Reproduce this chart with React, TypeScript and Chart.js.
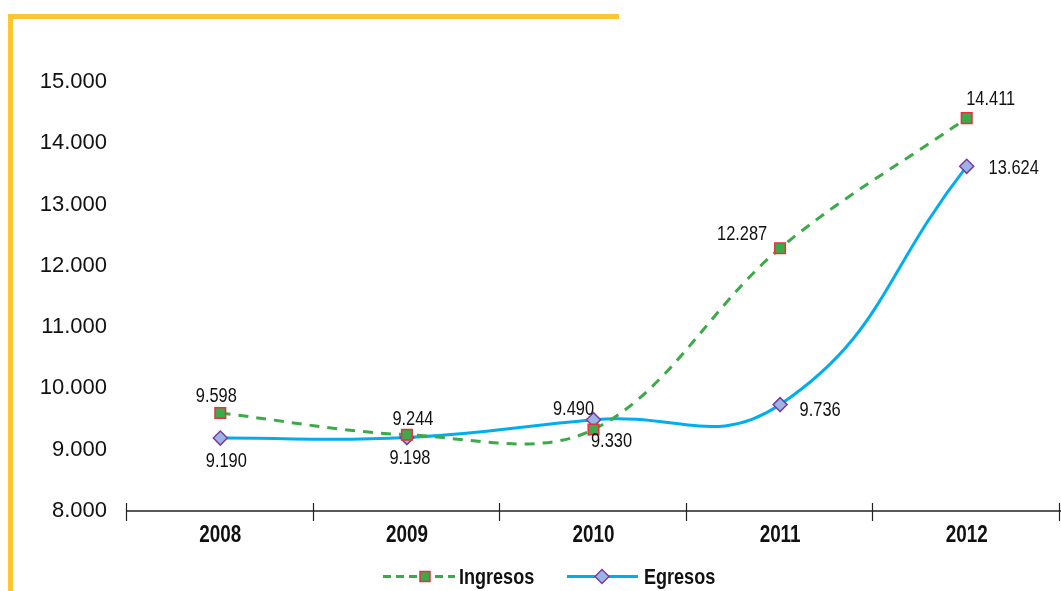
import React, { useEffect, useRef } from "react";
import { Chart, registerables } from "chart.js";

Chart.register(...registerables);

const years = ["2008", "2009", "2010", "2011", "2012"];
const ingresos = [9598, 9244, 9330, 12287, 14411];
const egresos = [9190, 9198, 9490, 9736, 13624];
const yMin = 8000;
const yMax = 15000;
const yStep = 1000;
const seriesNames = ["Ingresos", "Egresos"];

// label placement offsets (dx, dy) from each point, in px
const ingresosLabelOffsets = [[-4, -17], [6, -15], [18, 12], [-38, -14], [24, -19]];
const egresosLabelOffsets = [[6, 23], [3, 21], [-20, -10], [40, 6], [47, 2]];

const SANS = '"Liberation Sans", Arial, sans-serif';
const NARROW_SCALE = 0.82;

const GREEN = "#3DAA4A";
const RED = "#E5323E";
const BLUE = "#00AEEF";
const DIAMOND_FILL = "#9AB4E6";
const PURPLE = "#7A3E9D";
const YELLOW = "#FFC532";

const fmt = (v: number) => {
  const s = Math.round(v).toString();
  return s.replace(/\B(?=(\d{3})+(?!\d))/g, ".");
};

function narrowText(
  ctx: CanvasRenderingContext2D,
  text: string,
  x: number,
  y: number,
  font: string,
  align: CanvasTextAlign
) {
  ctx.save();
  ctx.font = font;
  ctx.textAlign = align;
  ctx.textBaseline = "middle";
  ctx.translate(x, y);
  ctx.scale(NARROW_SCALE, 1);
  ctx.fillText(text, 0, 0);
  ctx.restore();
}

function drawSquare(ctx: CanvasRenderingContext2D, x: number, y: number, half: number) {
  ctx.save();
  ctx.fillStyle = GREEN;
  ctx.strokeStyle = RED;
  ctx.lineWidth = 1.5;
  ctx.setLineDash([]);
  ctx.beginPath();
  ctx.rect(x - half, y - half, half * 2, half * 2);
  ctx.fill();
  ctx.stroke();
  ctx.restore();
}

function drawDiamond(ctx: CanvasRenderingContext2D, x: number, y: number, r: number) {
  ctx.save();
  ctx.fillStyle = DIAMOND_FILL;
  ctx.strokeStyle = PURPLE;
  ctx.lineWidth = 1.5;
  ctx.setLineDash([]);
  ctx.beginPath();
  ctx.moveTo(x - r, y);
  ctx.lineTo(x, y - r);
  ctx.lineTo(x + r, y);
  ctx.lineTo(x, y + r);
  ctx.closePath();
  ctx.fill();
  ctx.stroke();
  ctx.restore();
}

const decorPlugin = {
  id: "decor",
  beforeDraw(chart: any) {
    const ctx = chart.ctx as CanvasRenderingContext2D;
    ctx.save();
    ctx.fillStyle = "#ffffff";
    ctx.fillRect(0, 0, chart.width, chart.height);
    ctx.fillStyle = YELLOW;
    ctx.fillRect(8, 14, 611, 5);
    ctx.fillRect(8, 14, 5, chart.height - 14);
    ctx.restore();
  },
  afterDraw(chart: any) {
    const ctx = chart.ctx as CanvasRenderingContext2D;
    const xs = chart.scales.x;
    const area = chart.chartArea;
    const y0 = area.bottom;
    ctx.save();
    // x axis line
    ctx.strokeStyle = "#222";
    ctx.lineWidth = 1.5;
    ctx.beginPath();
    ctx.moveTo(area.left, y0);
    ctx.lineTo(chart.width, y0);
    ctx.stroke();
    // tick marks at category boundaries
    const n = years.length;
    const spacing = xs.getPixelForValue(1) - xs.getPixelForValue(0);
    ctx.lineWidth = 1.2;
    for (let i = 0; i <= n; i++) {
      const px = Math.round(xs.getPixelForValue(0) - spacing / 2 + i * spacing) - 0.5;
      ctx.beginPath();
      ctx.moveTo(px, y0 - 8);
      ctx.lineTo(px, y0 + 10);
      ctx.stroke();
    }
    // category labels
    ctx.fillStyle = "#111";
    years.forEach((yr, i) => {
      narrowText(ctx, yr, xs.getPixelForValue(i), y0 + 25, `bold 23px ${SANS}`, "center");
    });
    // legend
    const ly = 576.5;
    ctx.lineWidth = 3;
    ctx.strokeStyle = GREEN;
    ctx.setLineDash([8, 5]);
    ctx.beginPath();
    ctx.moveTo(383, ly);
    ctx.lineTo(455, ly);
    ctx.stroke();
    ctx.setLineDash([]);
    drawSquare(ctx, 425, ly, 5);
    ctx.strokeStyle = BLUE;
    ctx.beginPath();
    ctx.moveTo(567, ly);
    ctx.lineTo(638, ly);
    ctx.stroke();
    drawDiamond(ctx, 602, ly, 7);
    ctx.fillStyle = "#111";
    narrowText(ctx, seriesNames[0], 459, ly + 1, `bold 22px ${SANS}`, "left");
    narrowText(ctx, seriesNames[1], 644, ly + 1, `bold 22px ${SANS}`, "left");
    ctx.restore();
  },
  afterDatasetsDraw(chart: any) {
    const ctx = chart.ctx as CanvasRenderingContext2D;
    ctx.save();
    ctx.fillStyle = "#111";
    const offs = [ingresosLabelOffsets, egresosLabelOffsets];
    chart.data.datasets.forEach((ds: any, di: number) => {
      const meta = chart.getDatasetMeta(di);
      meta.data.forEach((pt: any, i: number) => {
        const [dx, dy] = offs[di][i];
        narrowText(ctx, fmt(ds.data[i]), pt.x + dx, pt.y + dy, `20px ${SANS}`, "center");
      });
    });
    ctx.restore();
  },
};

export default function App() {
  const ref = useRef<HTMLCanvasElement | null>(null);
  useEffect(() => {
    if (!ref.current) return;
    const chart = new Chart(ref.current, {
      type: "line",
      data: {
        labels: years,
        datasets: [
          {
            label: seriesNames[0],
            data: ingresos,
            borderColor: GREEN,
            borderWidth: 3,
            borderDash: [10, 8],
            tension: 0.35,
            fill: false,
            pointStyle: "rect",
            pointRadius: 7.5,
            pointBackgroundColor: GREEN,
            pointBorderColor: RED,
            pointBorderWidth: 1.5,
          },
          {
            label: seriesNames[1],
            data: egresos,
            borderColor: BLUE,
            borderWidth: 3,
            tension: 0.45,
            fill: false,
            pointStyle: "rectRot",
            pointRadius: 7,
            pointBackgroundColor: DIAMOND_FILL,
            pointBorderColor: PURPLE,
            pointBorderWidth: 1.5,
          },
        ],
      },
      options: {
        animation: false,
        responsive: false,
        devicePixelRatio: 1,
        layout: { autoPadding: false, padding: { top: 82, right: 1, left: 0, bottom: 0 } },
        plugins: { legend: { display: false }, tooltip: { enabled: false } },
        scales: {
          x: {
            offset: true,
            grid: { display: false, drawTicks: false },
            border: { display: false },
            ticks: { display: false },
            afterFit: (s: any) => {
              s.height = 80;
              s.paddingLeft = 0;
              s.paddingRight = 0;
            },
          },
          y: {
            min: yMin,
            max: yMax,
            grid: { display: false, drawTicks: false },
            border: { display: false },
            ticks: {
              stepSize: yStep,
              color: "#111",
              font: { family: SANS, size: 22 },
              padding: 20,
              callback: (v: any) => fmt(Number(v)),
            },
            afterFit: (s: any) => {
              s.width = 127;
            },
          },
        },
      },
      plugins: [decorPlugin],
    } as any);
    return () => chart.destroy();
  }, []);
  return (
    <div style={{ position: "fixed", left: 0, top: 0, width: 1061, height: 591, background: "#fff" }}>
      <canvas ref={ref} width={1061} height={591} style={{ display: "block", width: 1061, height: 591 }} />
    </div>
  );
}
